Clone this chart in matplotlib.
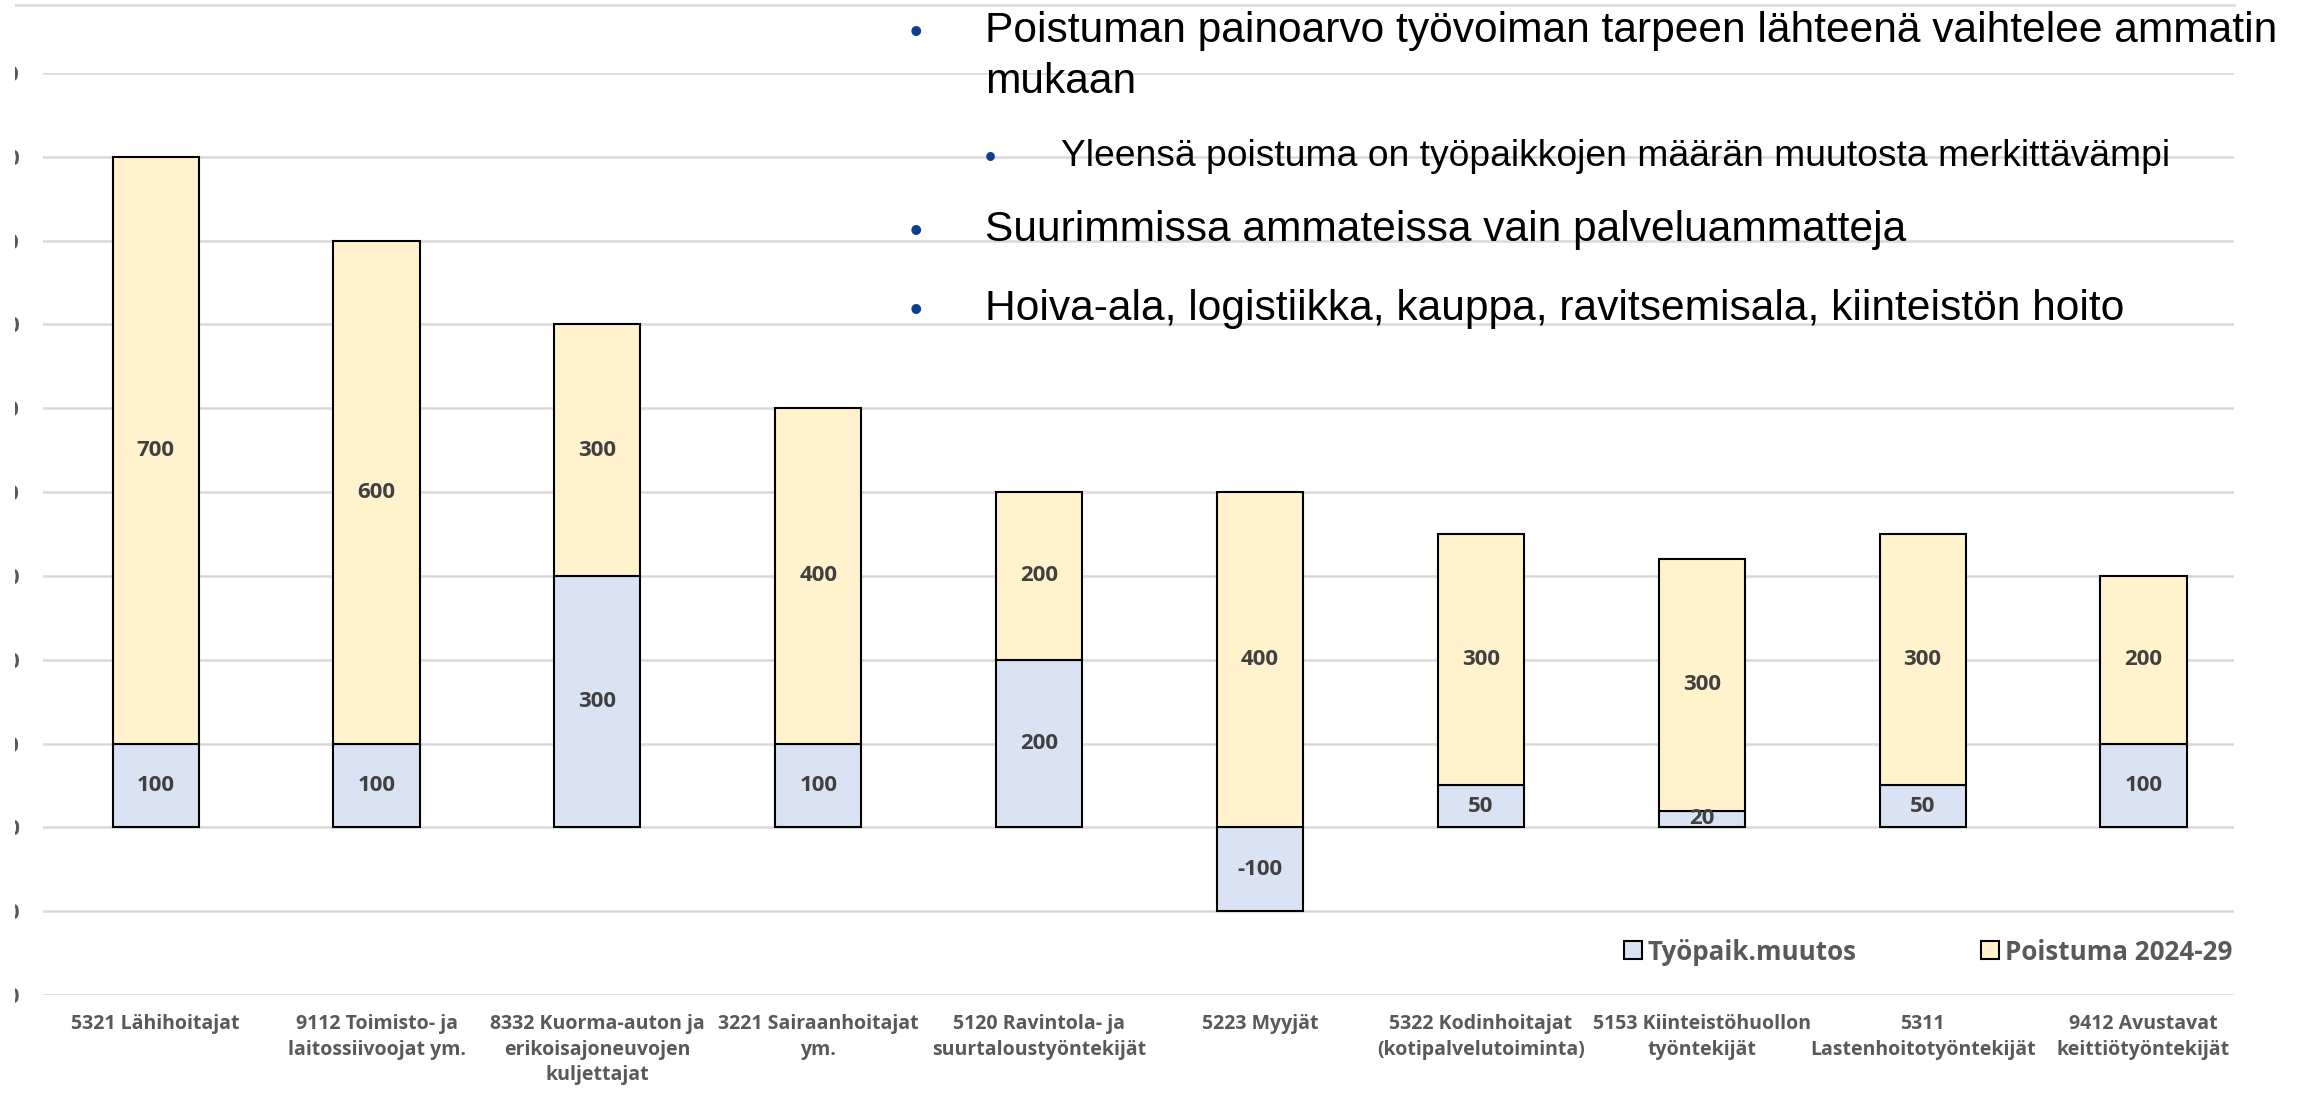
import matplotlib.pyplot as plt
from matplotlib.patches import Rectangle
from matplotlib.lines import Line2D

# occupations and the two stacked components (persons)
ammatit = [
    "5321 Lähihoitajat",
    "9112 Toimisto- ja\nlaitossiivoojat ym.",
    "8332 Kuorma-auton ja\nerikoisajoneuvojen\nkuljettajat",
    "3221 Sairaanhoitajat\nym.",
    "5120 Ravintola- ja\nsuurtaloustyöntekijät",
    "5223 Myyjät",
    "5322 Kodinhoitajat\n(kotipalvelutoiminta)",
    "5153 Kiinteistöhuollon\ntyöntekijät",
    "5311\nLastenhoitotyöntekijät",
    "9412 Avustavat\nkeittiötyöntekijät",
]
tyopaik_muutos = [100, 100, 300, 100, 200, -100, 50, 20, 50, 100]
poistuma = [700, 600, 300, 400, 200, 400, 300, 300, 300, 200]
y_ticks = list(range(-200, 1000, 100))

bullets = [
    (1, "Poistuman painoarvo työvoiman tarpeen lähteenä vaihtelee ammatin\nmukaan"),
    (2, "Yleensä poistuma on työpaikkojen määrän muutosta merkittävämpi"),
    (1, "Suurimmissa ammateissa vain palveluammatteja"),
    (1, "Hoiva-ala, logistiikka, kauppa, ravitsemisala, kiinteistön hoito"),
]

W, H = 2305, 1093
sininen = "#DAE3F3"
keltainen = "#FFF2CC"
harmaa = "#595959"
fontti = "Open Sans"

fig = plt.figure(figsize=(W / 100, H / 100), dpi=100)
ax = fig.add_axes([43 / W, 1 - 995 / H, (2234 - 43) / W, (995 - 73) / H])

x = list(range(len(ammatit)))
# Excel-style stacking: positive parts stack from zero, negatives go below
pohja = [max(v, 0) for v in tyopaik_muutos]
ax.bar(x, tyopaik_muutos, width=0.39, color=sininen, edgecolor="black",
       linewidth=1.5, zorder=3)
ax.bar(x, poistuma, bottom=pohja, width=0.39, color=keltainen,
       edgecolor="black", linewidth=1.5, zorder=3)

for xi, v in zip(x, tyopaik_muutos):
    ax.text(xi, v / 2, f"{v}", ha="center", va="center", fontsize=16,
            fontweight="bold", color="#404040", family=fontti, zorder=4)
for xi, v, b in zip(x, poistuma, pohja):
    ax.text(xi, b + v / 2, f"{v}", ha="center", va="center", fontsize=16,
            fontweight="bold", color="#404040", family=fontti, zorder=4)

ax.set_xlim(-0.51, 9.41)
ax.set_ylim(-200, 900)
ax.set_yticks(y_ticks)
ax.set_yticklabels([str(t) for t in y_ticks])
ax.grid(axis="y", color="#D9D9D9", linewidth=1.8, zorder=0)
for s in ax.spines.values():
    s.set_visible(False)
ax.tick_params(axis="y", length=0, pad=17, labelsize=15, labelcolor=harmaa)
ax.tick_params(axis="x", length=0, pad=14)
ax.set_xticks(x)
ax.set_xticklabels(ammatit, fontsize=14, fontweight="bold", color=harmaa,
                   family=fontti, linespacing=1.35, va="top")
for lab in ax.get_yticklabels():
    lab.set_fontweight("bold")
    lab.set_family(fontti)

# legend
kahvat = [
    Line2D([], [], marker="s", linestyle="none", markersize=13,
           markerfacecolor=sininen, markeredgecolor="black", markeredgewidth=1.5),
    Line2D([], [], marker="s", linestyle="none", markersize=13,
           markerfacecolor=keltainen, markeredgecolor="black", markeredgewidth=1.5),
]
leg = fig.legend(kahvat, ["Työpaik.muutos", "Poistuma 2024-29"], ncol=2,
                 loc="center right", bbox_to_anchor=(2232 / W, 1 - 952 / H),
                 frameon=False, borderaxespad=0, borderpad=0, handlelength=0.6,
                 handletextpad=0.25, columnspacing=4.85,
                 prop={"family": fontti, "weight": "bold", "size": 18.7})
for t in leg.get_texts():
    t.set_color(harmaa)

# white margin hiding most of the y tick labels, plus the top border line
fig.add_artist(Rectangle((0, 0), 15 / W, 1, transform=fig.transFigure,
                         facecolor="white", edgecolor="none", zorder=10))
fig.add_artist(Line2D([15 / W, 2234 / W], [1 - 5 / H, 1 - 5 / H],
                      color="#D9D9D9", linewidth=1.8))

# bullet text box
rivit_y = [30, 156, 229, 308]
for (taso, teksti), yy in zip(bullets, rivit_y):
    if taso == 1:
        bx, tx, fs = 916, 985, 30.6
    else:
        bx, tx, fs = 990, 1061, 26.8
    fig.text(bx / W, 1 - (yy + 3) / H, "•", ha="center", va="center",
             fontsize=fs * 0.85, color="#0B3F8F", family="Liberation Sans")
    fig.text(tx / W, 1 - (yy - fs * 0.62) / H, teksti, ha="left", va="top",
             fontsize=fs, color="black", family="Liberation Sans",
             linespacing=1.36)

fig.savefig("out.png", dpi=100, facecolor="white")
